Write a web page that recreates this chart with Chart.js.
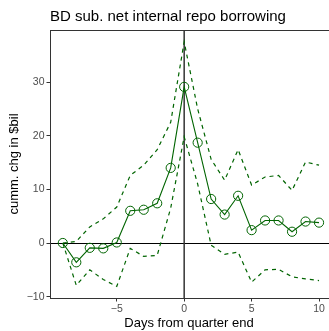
<!DOCTYPE html>
<html>
<head>
<meta charset="utf-8">
<script src="https://cdn.jsdelivr.net/npm/chart.js@4/dist/chart.umd.min.js"></script>
<style>
  html, body { margin: 0; padding: 0; background: #fff; }
  #wrap { width: 329px; height: 331px; }
</style>
</head>
<body>
<div id="wrap"><canvas id="repoChart" width="329" height="331"></canvas></div>
<script>
/*===================================================================
   Data
==================================================================*/
const days = [-9, -8, -7, -6, -5, -4, -3, -2, -1, 0, 1, 2, 3, 4, 5, 6, 7, 8, 9, 10]
const cummChg = [0, -3.6, -0.9, -1.0, 0.1, 6.0, 6.2, 7.4, 14.0, 29.1, 18.7, 8.2, 5.3, 8.8, 2.4, 4.2, 4.2, 2.1, 4.0, 3.8]
const upperBand = [0, 0.3, 3.0, 4.5, 6.7, 12.6, 14.5, 17.4, 22.5, 37.5, 25.0, 15.6, 11.7, 17.4, 10.8, 12.3, 12.6, 9.8, 15.1, 14.5]
const lowerBand = [0, -7.9, -5.0, -6.8, -8.1, -1.0, -2.5, -2.3, 6.5, 19.8, 11.0, -0.4, -2.1, -1.7, -7.3, -5.0, -4.9, -6.3, -6.7, -7.0]
const xTicks = [-5, 0, 5, 10]
const yTicks = [-10, 0, 10, 20, 30]

const titleText = 'BD sub. net internal repo borrowing'
const xTitle = 'Days from quarter end'
const yTitle = 'cumm. chg in $bil'

/*===================================================================
   helpers
==================================================================*/
const green = '#006400'
const FONT = '"Liberation Sans", Arial, sans-serif'
const toPoints = (vals) => days.map((d, i) => ({ x: d, y: vals[i] }))
const minus = (v) => (v < 0 ? '\u2212' + Math.abs(v) : '' + v)

// zero lines, panel box, titles
const decorations = {
  id: 'decorations',
  beforeDatasetsDraw(chart) {
    const { ctx, chartArea: a, scales: { x, y } } = chart
    ctx.save()
    ctx.strokeStyle = '#000'
    ctx.lineWidth = 1
    ctx.beginPath()
    const y0 = Math.round(y.getPixelForValue(0)) + 0.5
    ctx.moveTo(a.left, y0)
    ctx.lineTo(a.right, y0)
    ctx.stroke()
    ctx.strokeStyle = '#333'
    ctx.lineWidth = 1.5
    ctx.beginPath()
    const x0 = x.getPixelForValue(0)
    ctx.moveTo(x0, a.top)
    ctx.lineTo(x0, a.bottom)
    ctx.stroke()
    ctx.restore()
  },
  afterDraw(chart) {
    const { ctx, chartArea: a } = chart
    ctx.save()
    ctx.strokeStyle = '#333'
    ctx.lineWidth = 1
    ctx.strokeRect(a.left + 0.5, a.top + 0.5, a.right - a.left, a.bottom - a.top)

    ctx.fillStyle = '#000'
    ctx.font = `15px ${FONT}`
    ctx.textAlign = 'left'
    ctx.textBaseline = 'alphabetic'
    ctx.fillText(titleText, a.left, 20.5)

    ctx.font = `13px ${FONT}`
    ctx.textAlign = 'center'
    ctx.fillText(xTitle, 189, 326.5)

    ctx.translate(17.5, (a.top + a.bottom) / 2)
    ctx.rotate(-Math.PI / 2)
    ctx.fillText(yTitle, 0, 0)
    ctx.restore()
  }
}

/*===================================================================
   Chart
==================================================================*/
const ctx = document.getElementById('repoChart').getContext('2d')
const repoChart = new Chart(ctx, {
  type: 'line',
  data: {
    datasets: [
      {
        label: 'upper',
        data: toPoints(upperBand),
        borderColor: green,
        borderWidth: 1.2,
        borderDash: [4, 4],
        pointRadius: 0,
        tension: 0
      },
      {
        label: 'lower',
        data: toPoints(lowerBand),
        borderColor: green,
        borderWidth: 1.2,
        borderDash: [4, 4],
        pointRadius: 0,
        tension: 0
      },
      {
        label: 'cumm. chg',
        data: toPoints(cummChg),
        borderColor: green,
        borderWidth: 1.1,
        pointRadius: 4.6,
        pointBorderWidth: 1,
        pointBorderColor: green,
        pointBackgroundColor: 'rgba(0,0,0,0)',
        tension: 0
      }
    ]
  },
  options: {
    responsive: false,
    animation: false,
    devicePixelRatio: 1,
    // no auto padding for point overflow: panel runs to the right edge
    layout: { autoPadding: false, padding: { top: 30, right: 0, left: 0, bottom: 0 } },
    plugins: { legend: { display: false }, tooltip: { enabled: false }, title: { display: false } },
    scales: {
      x: {
        type: 'linear',
        min: -9.95,
        max: 10.74,
        afterBuildTicks: (s) => { s.ticks = xTicks.map(v => ({ value: v })) },
        afterFit: (s) => {
          s.height = 33
          s.paddingLeft = 0
          s.paddingRight = 0
        },
        ticks: {
          color: '#4d4d4d',
          font: { family: FONT, size: 10.5 },
          padding: 1,
          maxRotation: 0,
          autoSkip: false,
          callback: (v) => minus(v)
        },
        grid: { drawOnChartArea: false, drawTicks: true, tickLength: 3.5, color: '#333' },
        border: { display: true, color: '#333', width: 1 }
      },
      y: {
        type: 'linear',
        min: -10.25,
        max: 39.7,
        afterBuildTicks: (s) => { s.ticks = yTicks.map(v => ({ value: v })) },
        afterFit: (s) => {
          s.width = 50
          s.paddingTop = 0
          s.paddingBottom = 0
        },
        ticks: {
          color: '#4d4d4d',
          font: { family: FONT, size: 10.5 },
          padding: 2,
          autoSkip: false,
          callback: (v) => minus(v)
        },
        grid: { drawOnChartArea: false, drawTicks: true, tickLength: 3.5, color: '#333' },
        border: { display: true, color: '#333', width: 1 }
      }
    }
  },
  plugins: [decorations]
})
</script>
</body>
</html>
